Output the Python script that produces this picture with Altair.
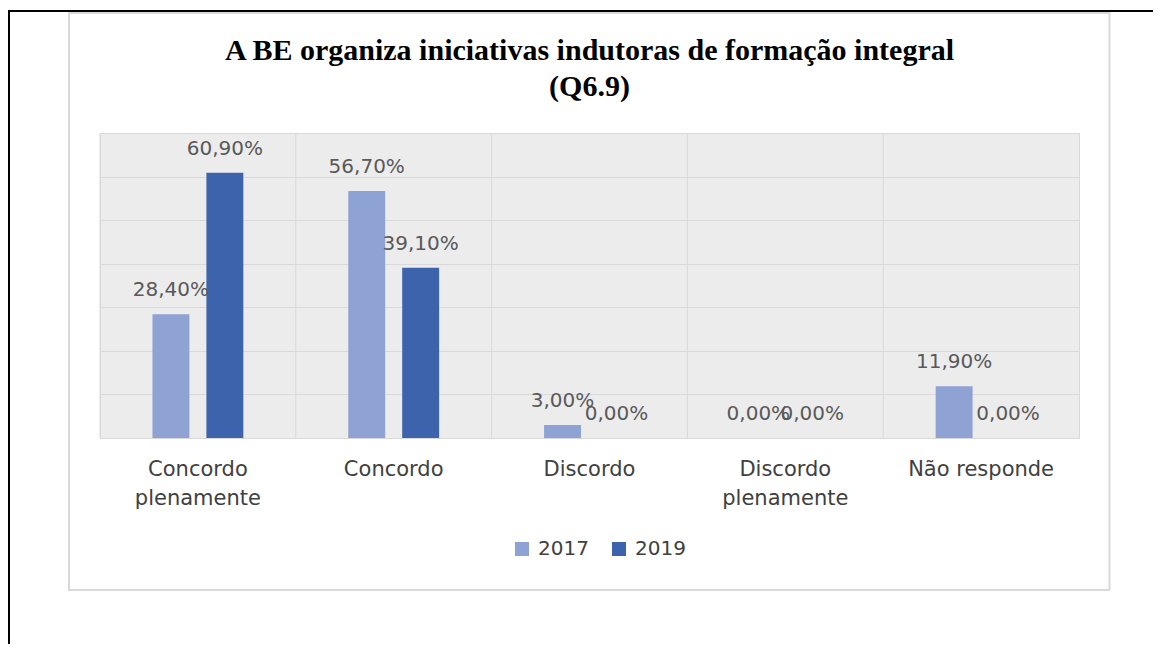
import altair as alt
import pandas as pd

categories = ["Concordo plenamente", "Concordo", "Discordo", "Discordo plenamente", "Não responde"]
label_line1 = ["Concordo", "Concordo", "Discordo", "Discordo", "Não responde"]
label_line2 = ["plenamente", "", "", "plenamente", ""]
years = ["2017", "2019"]
values_2017 = [28.4, 56.7, 3.0, 0.0, 11.9]
values_2019 = [60.9, 39.1, 0.0, 0.0, 0.0]
colors = ["#8FA2D4", "#3C63AC"]
title_lines = ["A BE organiza iniciativas  indutoras de formação integral", "(Q6.9)"]


def pt_label(v):
    return f"{v:.2f}".replace(".", ",") + "%"


rows = []
for c, a, b in zip(categories, values_2017, values_2019):
    rows.append({"categoria": c, "ano": "2017", "valor": a, "txt": pt_label(a)})
    rows.append({"categoria": c, "ano": "2019", "valor": b, "txt": pt_label(b)})
df = pd.DataFrame(rows)
cat_df = pd.DataFrame({"categoria": categories, "l1": label_line1, "l2": label_line2})

W, H = 979, 305

x_scale = alt.Scale(paddingInner=0, paddingOuter=0)
y_enc = alt.Y(
    "valor:Q",
    scale=alt.Scale(domain=[0, 70], nice=False),
    axis=alt.Axis(
        title=None,
        labels=False,
        ticks=False,
        domain=False,
        grid=True,
        gridColor="#d9d9d9",
        tickCount=7,
    ),
)

vgrid = alt.Chart(cat_df).mark_rule(color="#d9d9d9", strokeWidth=1).encode(
    x=alt.X("categoria:N", sort=categories, scale=x_scale, bandPosition=0, axis=None),
    y=alt.value(0),
    y2=alt.value(H),
)

bars = alt.Chart(df).mark_bar().encode(
    x=alt.X("categoria:N", sort=categories, scale=x_scale, axis=None),
    xOffset=alt.XOffset("ano:N", scale=alt.Scale(paddingInner=0.315, paddingOuter=0.973)),
    y=y_enc,
    color=alt.Color(
        "ano:N",
        scale=alt.Scale(domain=years, range=colors),
        legend=alt.Legend(
            title=None,
            orient="none",
            legendX=412,
            legendY=406,
            direction="horizontal",
            symbolType="square",
            symbolSize=196,
            labelFont="DejaVu Sans",
            labelFontSize=20,
            labelColor="#404040",
            labelOffset=6,
            columnPadding=20,
        ),
    ),
)

labels = alt.Chart(df).mark_text(
    font="DejaVu Sans", fontSize=20, color="#595959", dy=-18, baseline="alphabetic"
).encode(
    x=alt.X("categoria:N", sort=categories),
    xOffset=alt.XOffset("ano:N"),
    y=alt.Y("valor:Q"),
    text="txt:N",
)

cat_line1 = alt.Chart(cat_df).mark_text(
    font="DejaVu Sans", fontSize=21, color="#404040", baseline="alphabetic"
).encode(
    x=alt.X("categoria:N", sort=categories),
    y=alt.value(H + 38),
    text="l1:N",
)
cat_line2 = alt.Chart(cat_df).mark_text(
    font="DejaVu Sans", fontSize=21, color="#404040", baseline="alphabetic"
).encode(
    x=alt.X("categoria:N", sort=categories),
    y=alt.value(H + 67),
    text="l2:N",
)

one = alt.Data(values=[{"k": 1}])
title1 = alt.Chart(one).mark_text(
    font="Liberation Serif", fontSize=30, fontWeight="bold", color="black",
    align="center", baseline="alphabetic",
).encode(x=alt.value(W / 2), y=alt.value(-73), text=alt.value(title_lines[0]))
title2 = alt.Chart(one).mark_text(
    font="Liberation Serif", fontSize=30, fontWeight="bold", color="black",
    align="center", baseline="alphabetic",
).encode(x=alt.value(W / 2), y=alt.value(-37), text=alt.value(title_lines[1]))

frame = alt.Chart(one).mark_rect(fill="transparent", stroke="#d9d9d9", strokeWidth=2).encode(
    x=alt.value(-31), x2=alt.value(1009.5), y=alt.value(-120), y2=alt.value(457)
)
top_line = alt.Chart(one).mark_rule(color="black", strokeWidth=2).encode(
    x=alt.value(-92), x2=alt.value(1053), y=alt.value(-122)
)
left_line = alt.Chart(one).mark_rule(color="black", strokeWidth=2).encode(
    x=alt.value(-91), y=alt.value(-123), y2=alt.value(511)
)

chart = (
    alt.layer(frame, top_line, left_line, vgrid, bars, labels, cat_line1, cat_line2, title1, title2)
    .properties(
        width=W,
        height=H,
        autosize=alt.AutoSizeParams(type="none"),
        padding={"left": 92, "top": 125, "right": 74, "bottom": 206},
        background="white",
    )
    .configure_view(stroke="#d9d9d9", strokeWidth=1, fill="#ececec")
)

chart.save("out.html", embed_options={"renderer": "svg", "actions": False})
